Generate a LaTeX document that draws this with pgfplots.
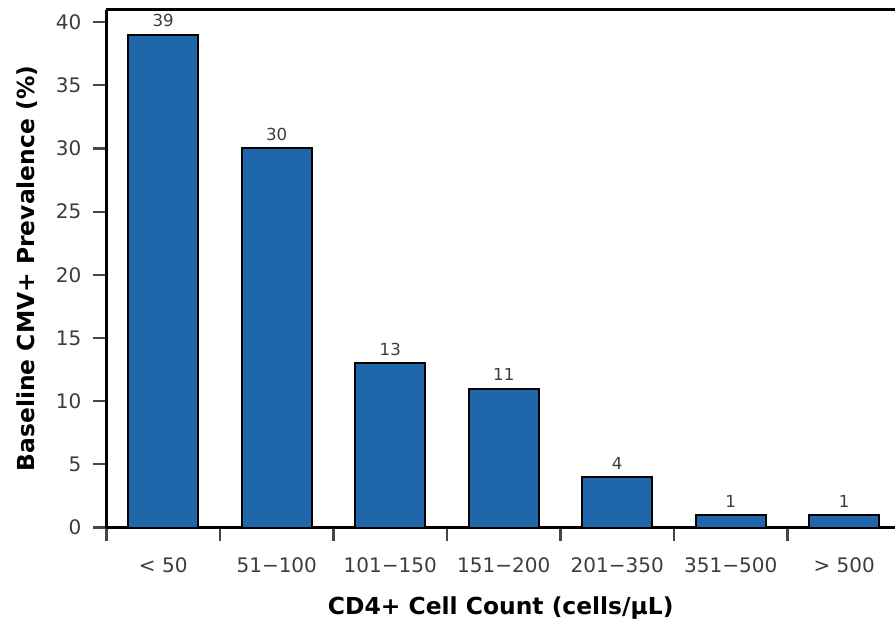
\documentclass[border=0pt]{standalone}
\usepackage{fontspec}
\setmainfont{DejaVu Sans}
\usepackage{pgfplots}
\pgfplotsset{compat=1.18}
\definecolor{barblue}{RGB}{31,102,170}
\definecolor{ticktxt}{RGB}{60,60,60}
\definecolor{tickcol}{RGB}{70,70,70}
\begin{document}
\begin{tikzpicture}
\begin{axis}[
  scale only axis,
  width=394.25pt, height=259pt,
  at={(0,0)}, anchor=south west,
  xmin=-0.5, xmax=6.447,
  ymin=0, ymax=41,
  separate axis lines,
  axis x line*=box,
  axis y line*=left,
  axis line style={line width=1.4pt, black},
  xtick pos=bottom, ytick pos=left,
  tick align=outside,
  major tick length=6.5pt,
  tick style={line width=1.1pt, tickcol},
  ytick={0,5,...,40},
  xtick={-0.5,0.5,1.5,2.5,3.5,4.5,5.5},
  xticklabels={},
  extra x ticks={0,1,2,3,4,5,6},
  extra x tick labels={{< 50},{51−100},{101−150},{151−200},{201−350},{351−500},{> 500}},
  extra x tick style={major tick length=0pt, tick style={draw=none},
     xticklabel style={yshift=-11.5pt}},
  /pgf/number format/assume math mode=true,
  ticklabel style={font=\fontsize{10}{12}\selectfont, text=ticktxt},
  yticklabel style={xshift=-2.5pt},
  xlabel={CD4+ Cell Count (cells/µL)},
  ylabel={Baseline CMV+ Prevalence (\%)},
  label style={font=\bfseries\fontsize{11.7}{14}\selectfont, text=black},
  xlabel style={at={(axis description cs:0.5,-0.156)}, anchor=center},
  ylabel style={at={(axis description cs:-0.1,0.5)}, anchor=center},
  ybar,
  bar width=35pt,
  nodes near coords,
  nodes near coords style={font=\fontsize{8.3}{10}\selectfont, text=ticktxt, anchor=south, yshift=0pt},
  clip=false,
]
\addplot[fill=barblue, draw=black, line width=1pt] coordinates {
  (0,39) (1,30) (2,13) (3,11) (4,4) (5,1) (6,1)
};
\end{axis}
\pgfresetboundingbox
\path[use as bounding box] (-53.25pt,-47.25pt) rectangle (394.25pt,263.75pt);
\end{tikzpicture}
\end{document}
